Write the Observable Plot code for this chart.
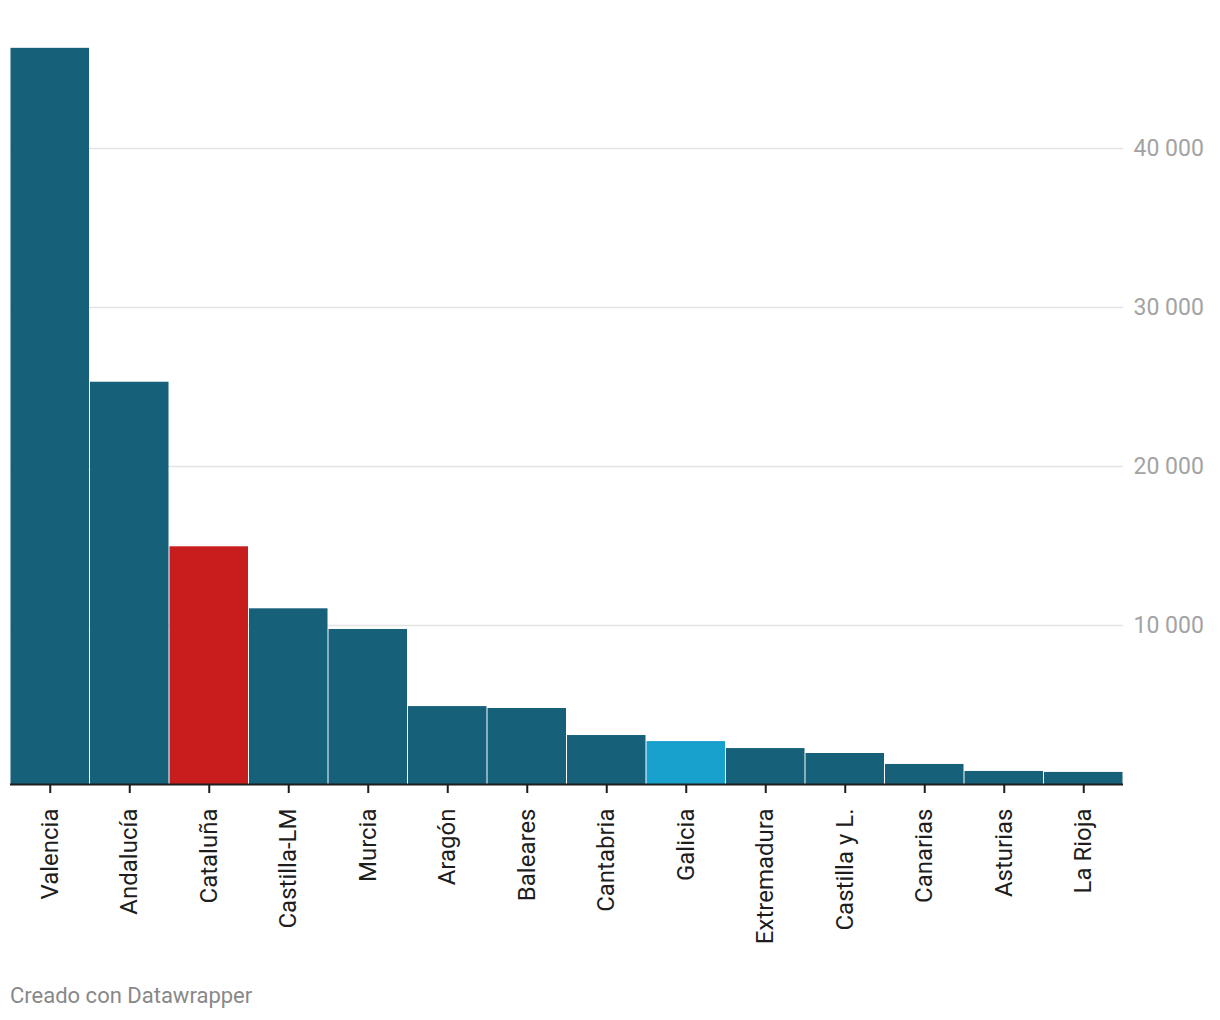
<!DOCTYPE html>
<html>
<head>
<meta charset="utf-8">
<script src="https://cdn.jsdelivr.net/npm/d3@7"></script>
<script src="https://cdn.jsdelivr.net/npm/@observablehq/plot@0.6"></script>
<style>
  html, body { margin: 0; padding: 0; background: #fff; }
  body { width: 1220px; height: 1020px; overflow: hidden; font-family: Roboto, sans-serif; }
  #chart svg { display: block; }
  .caption { position: absolute; left: 10px; top: 982px; font-family: Roboto, sans-serif; font-size: 22px; color: #888; line-height: 28px; }
</style>
</head>
<body>
<div id="chart"></div>
<div class="caption">Creado con Datawrapper</div>
<script>
const regions = ["Valencia", "Andalucía", "Cataluña", "Castilla-LM", "Murcia", "Aragón", "Baleares", "Cantabria", "Galicia", "Extremadura", "Castilla y L.", "Canarias", "Asturias", "La Rioja"];
const values = [46300, 25300, 14950, 11050, 9750, 4900, 4780, 3080, 2700, 2260, 1950, 1260, 820, 760];
const highlight = {"Cataluña": "#c71e1d", "Galicia": "#18a1cd"};
const baseColor = "#16607a";
const yTicks = [10000, 20000, 30000, 40000];

const data = regions.map((r, i) => ({region: r, value: values[i], color: highlight[r] || baseColor}));

const chart = Plot.plot({
  width: 1220,
  height: 970,
  marginLeft: 10,
  marginRight: 97,
  marginTop: 20.8,
  marginBottom: 186,
  style: {fontFamily: "Roboto, sans-serif", background: "#fff"},
  x: {domain: regions, padding: 0, round: false, label: null},
  y: {domain: [0, 48000], label: null},
  marks: [
    Plot.gridY(yTicks, {stroke: "#e3e3e3", strokeOpacity: 1, strokeWidth: 1.5}),
    Plot.barY(data, {x: "region", y: "value", fill: d => d.color, insetLeft: 0.5, insetRight: 0.5}),
    Plot.ruleY([0], {stroke: "#1d1d1d", strokeWidth: 2}),
    Plot.axisX({tickSize: 9, strokeWidth: 2, stroke: "#1d1d1d", tickFormat: () => "", label: null}),
    Plot.text(data, {x: "region", y: 0, text: "region", rotate: -90, textAnchor: "end", lineAnchor: "middle", dy: 24, fontSize: 24, fill: "#1d1d1d"}),
    Plot.axisY({anchor: "right", ticks: yTicks, tickSize: 0, tickPadding: 10, fontSize: 23, color: "#a3a3a3", label: null,
      tickFormat: d => d3.format(",")(d).replace(/,/g, " ")})
  ]
});
document.getElementById("chart").appendChild(chart);
</script>
</body>
</html>
